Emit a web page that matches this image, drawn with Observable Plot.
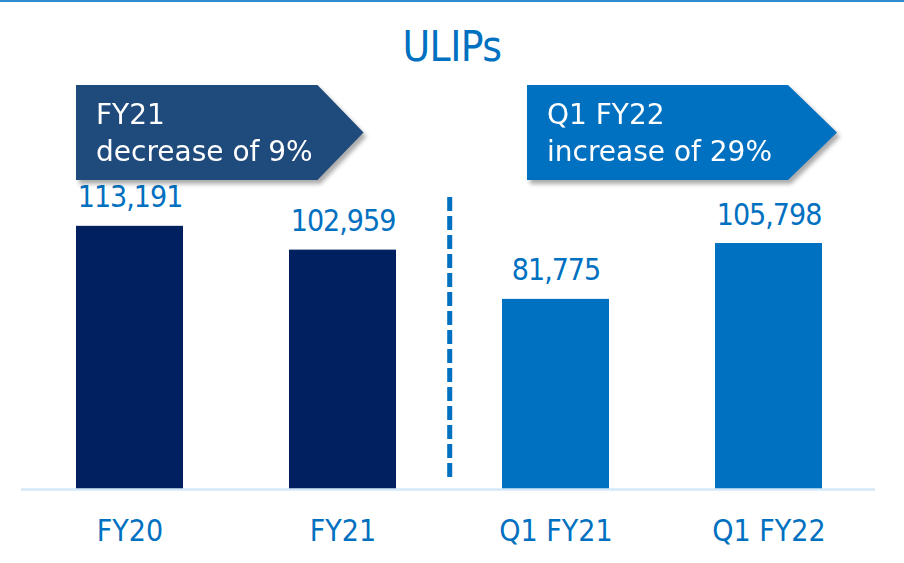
<!DOCTYPE html>
<html>
<head>
<meta charset="utf-8">
<script src="https://cdn.jsdelivr.net/npm/d3@7"></script>
<script src="https://cdn.jsdelivr.net/npm/@observablehq/plot@0.6"></script>
<style>
  html, body { margin: 0; padding: 0; background: #fff; }
  #wrap { position: relative; width: 904px; height: 563px; overflow: hidden; }
  #topline { position: absolute; left: 0; top: 0; width: 904px; height: 2px; background: #2f8ad0; }
  #title { position: absolute; left: 0; top: 22px; width: 904px; text-align: center;
           font-family: "DejaVu Sans Condensed", sans-serif; font-weight: 300;
           font-size: 42px; line-height: 50px; color: #0070C0; letter-spacing: -0.5px; }
  .banner { position: absolute; top: 85px; height: 95px; color: #fff;
            font-family: "DejaVu Sans", sans-serif; font-size: 28px; line-height: 37px;
            filter: drop-shadow(3px 4px 2px rgba(0,0,0,0.33)); }
  .banner .shape { position: absolute; inset: 0; }
  .banner .txt { position: absolute; left: 20px; top: 11px; white-space: nowrap; }
  #chart { position: absolute; left: 0; top: 0; }
  .value-label text { letter-spacing: -1px; }
</style>
</head>
<body>
<div id="wrap">
  <div id="topline"></div>
  <div id="title"></div>
  <div id="chart"></div>
</div>
<script>
// ULIP new business by period
const chartTitle = "ULIPs";
const categories = ["FY20", "FY21", "Q1 FY21", "Q1 FY22"];
const values = [113191, 102959, 81775, 105798];
const periodGroups = ["FY", "FY", "Q1", "Q1"];
const groupColors = ["#002060", "#0070C0"];

// Change call-outs above each pair of bars
const bannerTitles = ["FY21", "Q1 FY22"];
const bannerNotes = ["decrease of 9%", "increase of 29%"];
const bannerColors = ["#1f4a7c", "#0070C0"];

const rows = categories.map((c, i) => ({category: c, value: values[i], group: periodGroups[i]}));
const fmt = d3.format(",");

const W = 904, H = 563;
const marginLeft = 75, marginRight = 82, marginTop = 210, marginBottom = 74;
const step = (W - marginLeft - marginRight) / (categories.length - 0.5);

const plot = Plot.plot({
  width: W,
  height: H,
  marginLeft, marginRight, marginTop, marginBottom,
  style: {fontFamily: '"DejaVu Sans Condensed", sans-serif', background: "transparent"},
  x: {domain: categories, paddingInner: 0.5, paddingOuter: 0},
  y: {domain: [0, 120000], axis: null},
  color: {domain: ["FY", "Q1"], range: groupColors},
  marks: [
    Plot.barY(rows, {x: "category", y: "value", fill: "group"}),
    Plot.ruleY([0], {stroke: "#d3e8f8", strokeWidth: 2.5, insetLeft: -54, insetRight: -53}),
    // separator between annual and quarterly figures
    Plot.ruleX([categories[1]], {stroke: "#0070C0", strokeWidth: 5, strokeDasharray: "14,5",
      dx: step / 2, insetTop: -13, insetBottom: 12}),
    Plot.text(rows, {x: "category", y: "value", text: d => fmt(d.value), dy: -19,
      lineAnchor: "bottom", fill: "#0070C0", fontSize: 30, className: "value-label"}),
    Plot.axisX({tickSize: 0, tickPadding: 30, fontSize: 30, color: "#0070C0", label: null})
  ]
});
document.getElementById("chart").appendChild(plot);
document.getElementById("title").textContent = chartTitle;

// Arrow call-outs, anchored to the band scale
const xs = plot.scale("x");
const bw = xs.bandwidth;
const bannerBoxes = [
  {left: xs.apply(categories[0]), right: xs.apply(categories[1]) + bw / 2 + 21, tip: 46},
  {left: xs.apply(categories[2]) + 25, right: xs.apply(categories[3]) + bw + 15, tip: 49}
];
bannerBoxes.forEach((b, i) => {
  const el = document.createElement("div");
  el.className = "banner";
  el.style.left = b.left + "px";
  el.style.width = (b.right - b.left) + "px";
  const shape = document.createElement("div");
  shape.className = "shape";
  shape.style.background = bannerColors[i];
  shape.style.clipPath = `polygon(0 0, calc(100% - ${b.tip}px) 0, 100% 50%, calc(100% - ${b.tip}px) 100%, 0 100%)`;
  const txt = document.createElement("div");
  txt.className = "txt";
  txt.appendChild(document.createTextNode(bannerTitles[i]));
  txt.appendChild(document.createElement("br"));
  txt.appendChild(document.createTextNode(bannerNotes[i]));
  el.appendChild(shape);
  el.appendChild(txt);
  document.getElementById("wrap").appendChild(el);
});
</script>
</body>
</html>
